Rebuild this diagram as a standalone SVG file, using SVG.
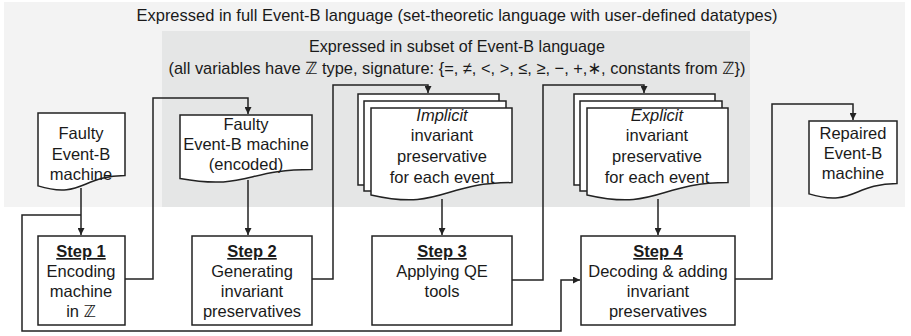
<svg xmlns="http://www.w3.org/2000/svg" width="911" height="336" viewBox="0 0 911 336">
  <defs>
    <marker id="arrow" viewBox="0 0 8 8" refX="8" refY="4" markerWidth="7" markerHeight="7" markerUnits="userSpaceOnUse" orient="auto">
      <path d="M0,0 L8,4 L0,8 Z" fill="#222"/>
    </marker>
    <style>
      text { font-family: "Liberation Sans", "DejaVu Sans", sans-serif; font-size: 16.5px; fill: #1a1a1a; text-anchor: middle; }
      .hdr { font-size: 17px; }
      .step { font-weight: bold; text-decoration: underline; }
      .it { font-style: italic; }
      .shape { fill: #fff; stroke: #222; stroke-width: 1.5; }
      .wire { fill: none; stroke: #222; stroke-width: 1.5; }
    </style>
  </defs>

  <!-- language regions -->
  <g id="regions">
    <rect x="4" y="2" width="901" height="205" fill="#f3f3f3"/>
    <rect x="162" y="31" width="588" height="176" fill="#e5e6e6"/>
    <text class="hdr" x="457" y="21" textLength="641" lengthAdjust="spacingAndGlyphs">Expressed in full Event-B language (set-theoretic language with user-defined datatypes)</text>
    <text class="hdr" x="457" y="52" textLength="296" lengthAdjust="spacingAndGlyphs">Expressed in subset of Event-B language</text>
    <text class="hdr" x="457" y="74" textLength="577" lengthAdjust="spacingAndGlyphs">(all variables have ℤ type, signature: {=, ≠, &lt;, &gt;, ≤, ≥, −, +,∗, constants from ℤ})</text>
  </g>

  <!-- connectors -->
  <g id="connectors">
    <path class="wire" d="M81,188 V235" marker-end="url(#arrow)"/>
    <path class="wire" d="M81,215 H22 V331 H561 V280 H580" marker-end="url(#arrow)"/>
    <path class="wire" d="M125,279 H153 V98 H248 V114" marker-end="url(#arrow)"/>
    <path class="wire" d="M248,180 V235" marker-end="url(#arrow)"/>
    <path class="wire" d="M312,279 H333 V85 H428 V93" marker-end="url(#arrow)"/>
    <path class="wire" d="M442,199 V235" marker-end="url(#arrow)"/>
    <path class="wire" d="M512,280 H543 V85 H644 V93" marker-end="url(#arrow)"/>
    <path class="wire" d="M658,199 V235" marker-end="url(#arrow)"/>
    <path class="wire" d="M735,279 H772 V104 H853 V120" marker-end="url(#arrow)"/>
  </g>

  <!-- documents -->
  <g id="doc-faulty">
    <path class="shape" d="M38,113 H125 V175.6 C81.5,175.6 81.5,199.4 38,185.9 Z"/>
    <text x="81" y="139">Faulty</text>
    <text x="81" y="160">Event-B</text>
    <text x="81" y="180">machine</text>
  </g>

  <g id="doc-encoded">
    <path class="shape" d="M180,115 H312 V169.5 C246,169.5 246,190.3 180,178.5 Z"/>
    <text x="246" y="130">Faulty</text>
    <text x="246" y="150">Event-B machine</text>
    <text x="246" y="170">(encoded)</text>
  </g>

  <g id="doc-implicit">
    <path class="shape" d="M364,185 H358 V94 H499 V164 H506"/>
    <path class="shape" d="M371,191 H364 V101 H506 V171 H512"/>
    <path class="shape" d="M371,108 H512 V182.6 C441.5,182.6 441.5,211 371,194.9 Z"/>
    <text class="it" x="442" y="121">Implicit</text>
    <text x="442" y="141">invariant</text>
    <text x="442" y="162">preservative</text>
    <text x="442" y="183">for each event</text>
  </g>

  <g id="doc-explicit" transform="translate(216,0)">
    <path class="shape" d="M364,185 H358 V94 H499 V164 H506"/>
    <path class="shape" d="M371,191 H364 V101 H506 V171 H512"/>
    <path class="shape" d="M371,108 H512 V182.6 C441.5,182.6 441.5,211 371,194.9 Z"/>
    <text class="it" x="441" y="121">Explicit</text>
    <text x="441" y="141">invariant</text>
    <text x="441" y="162">preservative</text>
    <text x="441" y="183">for each event</text>
  </g>

  <g id="doc-repaired">
    <path class="shape" d="M809,121 H897 V183.6 C853,183.6 853,207.4 809,193.9 Z"/>
    <text x="853" y="139">Repaired</text>
    <text x="853" y="159">Event-B</text>
    <text x="853" y="179">machine</text>
  </g>

  <!-- process steps -->
  <g id="step1">
    <rect class="shape" x="38" y="236" width="87" height="89"/>
    <text class="step" x="81" y="257">Step 1</text>
    <text x="81" y="277">Encoding</text>
    <text x="81" y="297">machine</text>
    <text x="81" y="317">in ℤ</text>
  </g>

  <g id="step2">
    <rect class="shape" x="192" y="236" width="120" height="89"/>
    <text class="step" x="252" y="257">Step 2</text>
    <text x="252" y="277">Generating</text>
    <text x="252" y="297">invariant</text>
    <text x="252" y="317">preservatives</text>
  </g>

  <g id="step3">
    <rect class="shape" x="372" y="236" width="140" height="89"/>
    <text class="step" x="442" y="257">Step 3</text>
    <text x="442" y="277">Applying QE</text>
    <text x="442" y="297">tools</text>
  </g>

  <g id="step4">
    <rect class="shape" x="581" y="236" width="154" height="89"/>
    <text class="step" x="658" y="257">Step 4</text>
    <text x="658" y="277">Decoding &amp; adding</text>
    <text x="658" y="297">invariant</text>
    <text x="658" y="317">preservatives</text>
  </g>
</svg>
